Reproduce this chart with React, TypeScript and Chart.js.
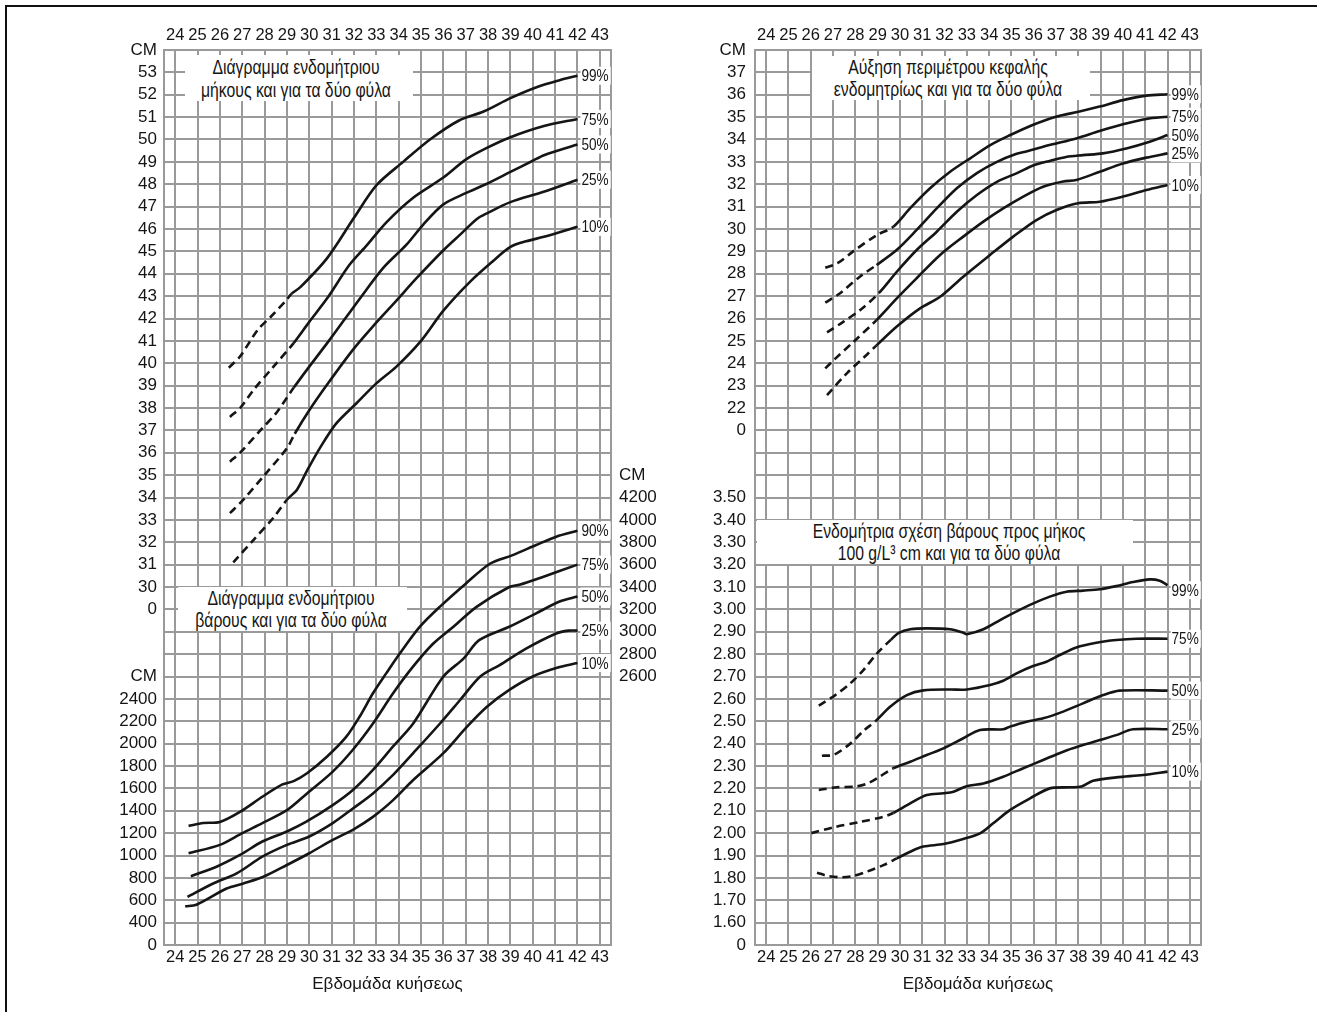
import React, { useEffect, useRef } from 'react';
import { Chart, registerables } from 'chart.js';

Chart.register(...registerables);

const FONT = '"Liberation Sans", Arial, sans-serif';
const GRID = '#9a9a9a';
const INK = '#151515';

// ---------- axis / tick data ----------
const weeks = [24, 25, 26, 27, 28, 29, 30, 31, 32, 33, 34, 35, 36, 37, 38, 39, 40, 41, 42, 43];
const lengthTicks = [53, 52, 51, 50, 49, 48, 47, 46, 45, 44, 43, 42, 41, 40, 39, 38, 37, 36, 35, 34, 33, 32, 31, 30];
const weightTicks = [2400, 2200, 2000, 1800, 1600, 1400, 1200, 1000, 800, 600, 400];
const weightTicksRight = [4200, 4000, 3800, 3600, 3400, 3200, 3000, 2800, 2600];
const headTicks = [37, 36, 35, 34, 33, 32, 31, 30, 29, 28, 27, 26, 25, 24, 23, 22];
const ratioTicks = ['3.50', '3.40', '3.30', '3.20', '3.10', '3.00', '2.90', '2.80', '2.70', '2.60', '2.50', '2.40', '2.30', '2.20', '2.10', '2.00', '1.90', '1.80', '1.70', '1.60'];

// ---------- series: [week, value] ----------
// Length (cm)
const len99 = [[26.4, 39.8], [26.9, 40.3], [27.7, 41.5], [28.3, 42.1], [29.0, 42.85], [29.2, 43.1], [29.6, 43.4], [30.8, 44.7], [32.0, 46.5], [33.0, 47.95], [34.2, 49.0], [35.4, 50.0], [36.7, 50.85], [37.8, 51.25], [39.0, 51.85], [40.2, 52.35], [41.2, 52.65], [42.0, 52.85]];
const len75 = [[26.45, 37.6], [26.95, 38.05], [27.5, 38.8], [28.4, 39.85], [29.3, 40.9], [30.0, 41.85], [30.8, 42.9], [31.8, 44.4], [32.6, 45.3], [33.45, 46.3], [34.65, 47.4], [36.0, 48.3], [37.0, 49.1], [37.9, 49.6], [39.0, 50.1], [40.5, 50.6], [42.0, 50.92]];
const len50 = [[26.45, 35.6], [26.95, 36.05], [27.9, 37.1], [28.5, 37.75], [29.3, 38.9], [30.0, 39.85], [30.8, 40.9], [31.5, 41.85], [32.2, 42.8], [33.3, 44.25], [34.35, 45.3], [35.1, 46.2], [36.0, 47.1], [37.0, 47.6], [37.9, 48.0], [39.0, 48.55], [40.0, 49.05], [40.5, 49.3], [42.0, 49.78]];
const len25 = [[26.45, 33.3], [27.05, 33.9], [27.95, 34.95], [29.0, 36.2], [29.35, 36.85], [30.0, 37.9], [30.8, 39.05], [31.95, 40.6], [32.85, 41.65], [33.9, 42.8], [34.8, 43.8], [36.0, 45.05], [36.75, 45.75], [37.5, 46.45], [37.95, 46.7], [39.0, 47.2], [40.45, 47.65], [42.0, 48.2]];
const len10 = [[26.6, 31.1], [27.5, 32.1], [28.4, 33.1], [29.0, 33.9], [29.45, 34.35], [29.9, 35.2], [30.5, 36.25], [31.2, 37.3], [32.1, 38.2], [33.0, 39.1], [33.9, 39.85], [35.0, 41.0], [36.0, 42.35], [37.2, 43.65], [38.2, 44.55], [39.0, 45.2], [39.7, 45.45], [40.5, 45.65], [42.0, 46.1]];

// Weight (g)
const wt90 = [[24.6, 1265], [25.25, 1290], [26.0, 1300], [26.9, 1390], [27.9, 1525], [28.8, 1635], [29.3, 1665], [29.9, 1735], [30.8, 1885], [31.65, 2060], [32.25, 2240], [32.85, 2450], [33.45, 2630], [34.05, 2805], [34.95, 3045], [35.85, 3225], [37.0, 3430], [38.1, 3610], [39.1, 3685], [40.15, 3775], [41.05, 3850], [42.0, 3903]];
const wt75 = [[24.6, 1020], [26.0, 1095], [27.0, 1200], [27.9, 1290], [29.0, 1405], [29.9, 1555], [31.05, 1750], [31.95, 1945], [32.85, 2180], [33.75, 2450], [34.65, 2690], [35.55, 2895], [36.45, 3045], [37.5, 3225], [38.95, 3400], [39.4, 3420], [40.45, 3490], [42.0, 3600]];
const wt50 = [[24.7, 815], [25.85, 900], [26.9, 1005], [27.9, 1125], [29.0, 1215], [29.85, 1300], [31.05, 1450], [31.95, 1585], [32.85, 1765], [33.75, 1975], [34.65, 2180], [36.0, 2600], [36.9, 2760], [37.6, 2925], [38.95, 3045], [40.15, 3165], [41.2, 3270], [42.0, 3315]];
const wt25 = [[24.55, 630], [25.7, 750], [26.75, 840], [27.9, 990], [29.0, 1095], [30.0, 1170], [31.05, 1290], [31.95, 1420], [32.85, 1555], [33.75, 1720], [34.65, 1915], [35.85, 2180], [36.75, 2390], [37.65, 2600], [38.5, 2700], [39.7, 2850], [41.05, 2985], [41.6, 3010], [42.0, 3010]];
const wt10 = [[24.45, 545], [24.95, 560], [26.3, 705], [27.05, 750], [27.95, 810], [29.0, 915], [30.0, 1020], [31.05, 1140], [31.95, 1230], [32.85, 1345], [33.75, 1495], [34.65, 1675], [36.0, 1915], [37.05, 2150], [37.95, 2330], [38.95, 2480], [40.0, 2600], [41.05, 2675], [42.0, 2720]];

// Head circumference (cm)
const head99 = [[26.65, 28.27], [27.2, 28.47], [27.9, 29.0], [28.95, 29.72], [29.7, 30.1], [30.45, 30.92], [31.35, 31.82], [32.25, 32.56], [33.15, 33.16], [34.05, 33.75], [34.95, 34.2], [35.95, 34.65], [37.0, 35.02], [38.05, 35.25], [38.95, 35.47], [40.0, 35.76], [41.05, 35.96], [42.0, 36.02]];
const head75 = [[26.65, 26.71], [27.3, 27.12], [28.2, 27.87], [28.95, 28.39], [29.85, 29.06], [30.75, 29.96], [31.65, 30.92], [32.55, 31.82], [33.45, 32.5], [34.35, 33.0], [35.2, 33.35], [35.7, 33.47], [36.7, 33.75], [37.9, 34.05], [38.95, 34.38], [40.0, 34.68], [41.05, 34.92], [42.0, 35.02]];
const head50 = [[26.73, 25.38], [27.47, 25.86], [28.22, 26.38], [29.05, 27.13], [29.86, 28.09], [30.75, 29.06], [31.65, 29.88], [32.55, 30.77], [33.45, 31.52], [34.35, 32.11], [35.25, 32.5], [36.0, 32.85], [36.75, 33.05], [37.45, 33.22], [38.2, 33.3], [39.1, 33.38], [40.15, 33.6], [41.2, 33.9], [42.0, 34.2]];
const head25 = [[26.65, 23.77], [27.03, 24.14], [27.92, 24.96], [28.95, 25.93], [29.86, 26.9], [30.75, 27.8], [31.8, 28.84], [32.84, 29.66], [33.74, 30.33], [34.63, 30.92], [35.53, 31.45], [36.42, 31.89], [37.32, 32.12], [37.91, 32.19], [38.96, 32.56], [40.0, 32.93], [41.05, 33.19], [42.0, 33.38]];
const head10 = [[26.73, 22.58], [27.62, 23.55], [28.5, 24.37], [28.95, 24.8], [29.86, 25.64], [30.9, 26.45], [31.8, 26.97], [32.84, 27.87], [34.04, 28.84], [35.08, 29.66], [36.12, 30.4], [37.02, 30.85], [37.99, 31.15], [38.96, 31.22], [40.0, 31.45], [41.05, 31.74], [42.0, 31.97]];

// Weight / length ratio
const ratio99 = [[26.36, 2.57], [27.1, 2.617], [27.77, 2.669], [28.37, 2.73], [28.97, 2.803], [29.6, 2.865], [29.95, 2.895], [30.46, 2.911], [31.2, 2.915], [32.25, 2.911], [32.84, 2.895], [33.0, 2.889], [33.74, 2.911], [34.63, 2.96], [35.83, 3.02], [36.72, 3.057], [37.47, 3.079], [38.21, 3.084], [38.96, 3.09], [39.7, 3.104], [40.45, 3.122], [41.2, 3.134], [41.65, 3.128], [42.0, 3.108]];
const ratio75 = [[26.5, 2.346], [27.03, 2.35], [27.77, 2.4], [28.4, 2.46], [28.9, 2.5], [29.56, 2.565], [30.31, 2.617], [31.05, 2.638], [32.25, 2.642], [33.0, 2.642], [34.04, 2.662], [34.63, 2.681], [35.23, 2.714], [35.97, 2.747], [36.57, 2.766], [37.17, 2.796], [37.91, 2.83], [38.81, 2.851], [39.7, 2.863], [40.6, 2.869], [42.0, 2.869]];
const ratio50 = [[26.36, 2.193], [27.18, 2.205], [28.0, 2.208], [28.5, 2.22], [28.97, 2.245], [29.7, 2.29], [30.46, 2.319], [31.2, 2.349], [31.95, 2.379], [32.84, 2.424], [33.59, 2.461], [34.63, 2.464], [34.93, 2.476], [35.68, 2.498], [36.42, 2.513], [37.32, 2.543], [38.21, 2.58], [39.11, 2.617], [39.85, 2.637], [42.0, 2.637]];
const ratio25 = [[26.03, 2.0], [27.03, 2.026], [28.22, 2.05], [29.26, 2.073], [29.7, 2.09], [30.46, 2.133], [31.2, 2.17], [31.95, 2.178], [32.4, 2.185], [32.99, 2.21], [33.74, 2.222], [34.63, 2.252], [35.53, 2.29], [36.42, 2.327], [37.32, 2.364], [38.06, 2.389], [38.96, 2.416], [39.7, 2.438], [40.45, 2.464], [42.0, 2.464]];
const ratio10 = [[26.28, 1.823], [26.8, 1.808], [27.4, 1.803], [27.9, 1.808], [28.52, 1.828], [29.26, 1.857], [29.86, 1.887], [30.46, 1.917], [31.05, 1.94], [31.95, 1.951], [32.84, 1.974], [33.59, 1.999], [34.18, 2.044], [34.93, 2.103], [35.83, 2.155], [36.72, 2.2], [37.6, 2.205], [38.14, 2.208], [38.66, 2.234], [39.7, 2.249], [40.9, 2.26], [42.0, 2.275]];

// percentile names and the week up to which each curve is dashed (extrapolated)
const lengthCurves = [
  { name: '99%', pts: len99, dashTo: 29.2 },
  { name: '75%', pts: len75, dashTo: 29.3 },
  { name: '50%', pts: len50, dashTo: 29.3 },
  { name: '25%', pts: len25, dashTo: 29.35 },
  { name: '10%', pts: len10, dashTo: 29.0 },
];
const weightCurves = [
  { name: '90%', pts: wt90, dashTo: 0 },
  { name: '75%', pts: wt75, dashTo: 0 },
  { name: '50%', pts: wt50, dashTo: 0 },
  { name: '25%', pts: wt25, dashTo: 0 },
  { name: '10%', pts: wt10, dashTo: 0 },
];
const headCurves = [
  { name: '99%', pts: head99, dashTo: 29.7 },
  { name: '75%', pts: head75, dashTo: 28.95 },
  { name: '50%', pts: head50, dashTo: 29.05 },
  { name: '25%', pts: head25, dashTo: 28.95 },
  { name: '10%', pts: head10, dashTo: 28.95 },
];
const ratioCurves = [
  { name: '99%', pts: ratio99, dashTo: 29.6 },
  { name: '75%', pts: ratio75, dashTo: 28.9 },
  { name: '50%', pts: ratio50, dashTo: 29.7 },
  { name: '25%', pts: ratio25, dashTo: 29.7 },
  { name: '10%', pts: ratio10, dashTo: 29.86 },
];

// row labels of the shared grid (top row first)
const leftRows = ['CM', ...lengthTicks.map(String), '0', '', '', 'CM', ...weightTicks.map(String), '0'];
const leftRightRows = [...Array(19).fill(''), 'CM', ...weightTicksRight.map(String), ...Array(12).fill('')];
const rightRows = ['CM', ...headTicks.map(String), '0', '', '', ...ratioTicks, '0'];
const rightRightRows = Array(41).fill('');

// ---------- helpers ----------
const pctLabelPlugin = {
  id: 'pctLabels',
  afterDatasetsDraw(chart: any) {
    const ctx = chart.ctx;
    chart.data.datasets.forEach((ds: any, i: number) => {
      if (!ds.pctLabel) return;
      const meta = chart.getDatasetMeta(i);
      const pt = meta.data[meta.data.length - 1];
      if (!pt) return;
      ctx.save();
      ctx.font = `17px ${FONT}`;
      const w = ctx.measureText(ds.pctLabel).width * 0.8;
      const x = pt.x + 3;
      const y = pt.y + (ds.pctDy || 0);
      ctx.fillStyle = '#ffffff';
      ctx.fillRect(x, y - 9, w + 3, 18);
      ctx.translate(x + 1, y + 1);
      ctx.scale(0.8, 1);
      ctx.fillStyle = INK;
      ctx.textBaseline = 'middle';
      ctx.textAlign = 'left';
      ctx.fillText(ds.pctLabel, 0, 0);
      ctx.restore();
    });
  },
};

function curveDatasets(curves: any[], yAxisID: string, dyMap: Record<string, number> = {}) {
  return curves.map((c) => ({
    data: c.pts.map(([x, y]: number[]) => ({ x, y })),
    xAxisID: 'x',
    yAxisID,
    borderColor: INK,
    borderWidth: 2.6,
    pointRadius: 0,
    tension: 0.3,
    fill: false,
    pctLabel: c.name,
    pctDy: dyMap[c.name] || 0,
    segment: {
      borderDash: (ctx: any) => (ctx.p1.parsed.x <= c.dashTo + 1e-6 ? [8, 5] : undefined),
    },
  }));
}

const rowValues = Array.from({ length: 41 }, (_, i) => i);

function buildConfig(p: any) {
  const xFont = { family: FONT, size: 16.5 };
  const yFont = { family: FONT, size: 17 };
  return {
    type: 'line',
    data: { datasets: p.datasets },
    options: {
      responsive: false,
      animation: false,
      layout: { padding: 0 },
      plugins: { legend: { display: false }, tooltip: { enabled: false }, title: { display: false } },
      scales: {
        x: {
          type: 'linear',
          position: 'bottom',
          min: 23.5,
          max: 43.5,
          afterBuildTicks: (s: any) => { s.ticks = weeks.map((v) => ({ value: v })); },
          afterFit: (s: any) => { s.height = p.bottomH; },
          ticks: { font: xFont, color: INK, padding: 3, maxRotation: 0, autoSkip: false, callback: (v: any) => String(v) },
          grid: { color: GRID, lineWidth: 2, drawTicks: false },
          border: { color: GRID, width: 2 },
          title: { display: true, text: 'Εβδομάδα κυήσεως', font: { family: FONT, size: 17 }, color: INK, padding: { top: 0, bottom: 10 } },
        },
        xTop: {
          type: 'linear',
          position: 'top',
          min: 23.5,
          max: 43.5,
          afterBuildTicks: (s: any) => { s.ticks = weeks.map((v) => ({ value: v })); },
          afterFit: (s: any) => { s.height = p.topH; },
          ticks: { font: xFont, color: INK, padding: 5, maxRotation: 0, autoSkip: false, callback: (v: any) => String(v) },
          grid: { display: false, drawTicks: false },
          border: { display: true, color: GRID, width: 2 },
        },
        yGrid: {
          type: 'linear',
          position: 'left',
          min: 0,
          max: 40,
          afterBuildTicks: (s: any) => { s.ticks = rowValues.map((v) => ({ value: v })); },
          afterFit: (s: any) => { s.width = p.leftW; },
          ticks: { font: yFont, color: INK, padding: p.leftPad, autoSkip: false, callback: (v: any) => p.rows[40 - v] },
          grid: { color: GRID, lineWidth: 2, drawTicks: false },
          border: { color: GRID, width: 2 },
        },
        yRight: {
          type: 'linear',
          position: 'right',
          min: 0,
          max: 40,
          afterBuildTicks: (s: any) => { s.ticks = rowValues.map((v) => ({ value: v })); },
          afterFit: (s: any) => { s.width = p.rightW; },
          ticks: { font: yFont, color: INK, padding: 8, autoSkip: false, callback: (v: any) => p.rightRows[40 - v] },
          grid: { display: false, drawTicks: false },
          border: { display: true, color: GRID, width: 2 },
        },
        ...p.dataScales,
      },
    },
    plugins: [pctLabelPlugin],
  };
}

const boxStyle: React.CSSProperties = {
  position: 'absolute',
  background: '#ffffff',
  fontFamily: FONT,
  fontSize: 21,
  color: INK,
  textAlign: 'center',
  whiteSpace: 'nowrap',
  overflow: 'hidden',
};
const condensed: React.CSSProperties = {
  display: 'block',
  transform: 'scaleX(0.75)',
  transformOrigin: '50% 50%',
};

function TitleBox({ left, top, width, height, lines, cx }: any) {
  return (
    <div style={{ ...boxStyle, left, top, width, height, lineHeight: `${height / 2}px` }}>
      <div style={{ position: 'absolute', left: cx - left - 200, width: 400, top: 0 }}>
        {lines.map((t: string, i: number) => (
          <span key={i} style={condensed}>{t}</span>
        ))}
      </div>
    </div>
  );
}

export default function App() {
  const leftRef = useRef<HTMLCanvasElement>(null);
  const rightRef = useRef<HTMLCanvasElement>(null);

  useEffect(() => {
    const leftCfg = buildConfig({
      rows: leftRows,
      rightRows: leftRightRows,
      leftW: 64,
      rightW: 49,
      topH: 35,
      bottomH: 60,
      leftPad: 7,
      datasets: [...curveDatasets(lengthCurves, 'yL'), ...curveDatasets(weightCurves, 'yW')],
      dataScales: {
        yL: { type: 'linear', display: false, min: 14, max: 54 },
        yW: { type: 'linear', display: false, min: 200, max: 8200 },
      },
    });
    const rightCfg = buildConfig({
      rows: rightRows,
      rightRows: rightRightRows,
      leftW: 65,
      rightW: 49,
      topH: 35,
      bottomH: 60,
      leftPad: 9,
      datasets: [...curveDatasets(headCurves, 'yH'), ...curveDatasets(ratioCurves, 'yR', { '99%': 5 })],
      dataScales: {
        yH: { type: 'linear', display: false, min: -2, max: 38 },
        yR: { type: 'linear', display: false, min: 1.5, max: 5.5 },
      },
    });
    const c1 = new Chart(leftRef.current as any, leftCfg as any);
    const c2 = new Chart(rightRef.current as any, rightCfg as any);
    return () => { c1.destroy(); c2.destroy(); };
  }, []);

  return (
    <div>
      <div style={{ position: 'absolute', left: 5, top: 5, width: 1320, height: 1010, borderLeft: '2px solid #111', borderTop: '2px solid #111' }} />
      <canvas ref={leftRef} width={560} height={990} style={{ position: 'absolute', left: 100, top: 15 }} />
      <canvas ref={rightRef} width={560} height={990} style={{ position: 'absolute', left: 690, top: 15 }} />
      <TitleBox left={185} top={55} width={228} height={46} cx={296}
        lines={['Διάγραμμα ενδομήτριου', 'μήκους και για τα δύο φύλα']} />
      <TitleBox left={178} top={587} width={229} height={44} cx={291}
        lines={['Διάγραμμα ενδομήτριου', 'βάρους και για τα δύο φύλα']} />
      <TitleBox left={812} top={56} width={278} height={44} cx={948}
        lines={['Αύξηση περιμέτρου κεφαλής', 'ενδομητρίως και για τα δύο φύλα']} />
      <TitleBox left={757} top={520} width={376} height={44} cx={949}
        lines={['Ενδομήτρια σχέση βάρους προς μήκος', '100 g/L³ cm και για τα δύο φύλα']} />
    </div>
  );
}
